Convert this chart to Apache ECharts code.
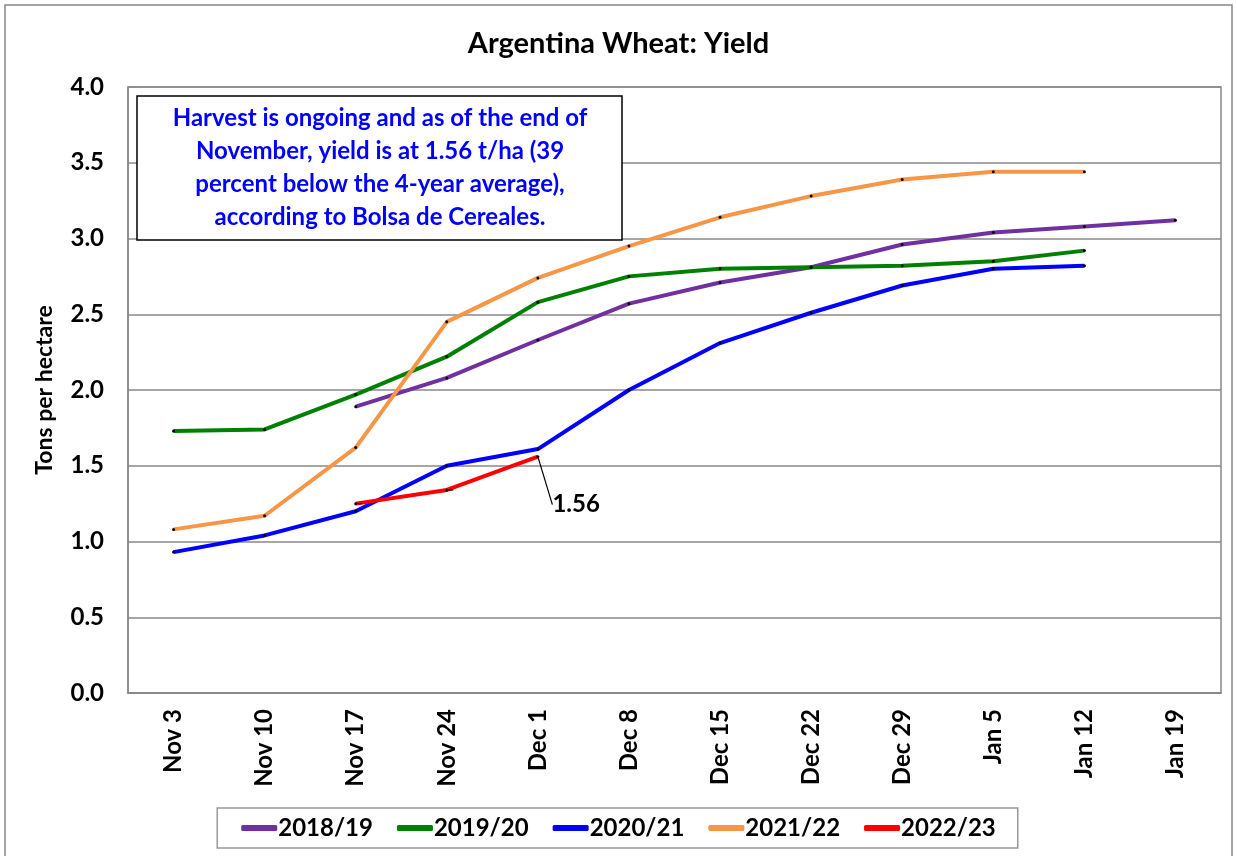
<!DOCTYPE html>
<html>
<head>
<meta charset="utf-8">
<script src="https://cdn.jsdelivr.net/npm/echarts@6/dist/echarts.min.js"></script>
<style>
  html, body { margin: 0; padding: 0; background: #fff; }
  #chart { width: 1237px; height: 856px; }
</style>
</head>
<body>
<div id="chart"></div>
<script>
// weeks of the harvest season
var weeks = ['Nov 3', 'Nov 10', 'Nov 17', 'Nov 24', 'Dec 1', 'Dec 8', 'Dec 15', 'Dec 22', 'Dec 29', 'Jan 5', 'Jan 12', 'Jan 19'];

// yield, tons per hectare (null = no report)
var y2018 = [null, null, 1.89, 2.08, 2.33, 2.57, 2.71, 2.81, 2.96, 3.04, 3.08, 3.12];
var y2019 = [1.73, 1.74, 1.97, 2.22, 2.58, 2.75, 2.80, 2.81, 2.82, 2.85, 2.92, null];
var y2020 = [0.93, 1.04, 1.20, 1.50, 1.61, 2.00, 2.31, 2.51, 2.69, 2.80, 2.82, null];
var y2021 = [1.08, 1.17, 1.62, 2.45, 2.74, 2.95, 3.14, 3.28, 3.39, 3.44, 3.44, null];
var y2022 = [null, null, 1.25, 1.34, 1.56, null, null, null, null, null, null, null];

var seasons = ['2018/19', '2019/20', '2020/21', '2021/22', '2022/23'];
var colors = ['#7030A0', '#008000', '#0000FF', '#F79646', '#FF0000'];

var noteLines = [
  'Harvest is ongoing and as of the end of',
  'November, yield is at 1.56 t/ha (39',
  'percent below the 4-year average),',
  'according to Bolsa de Cereales.'
];

var FONT = 'Lato';

function makeSeries(name, data, color) {
  return {
    name: name,
    type: 'line',
    data: data,
    symbol: 'circle',
    symbolSize: 3,
    showSymbol: true,
    connectNulls: false,
    itemStyle: { color: '#000' },
    lineStyle: { color: color, width: 4 },
    emphasis: { disabled: true },
    animation: false
  };
}

var chart = echarts.init(document.getElementById('chart'));

var allData = [y2018, y2019, y2020, y2021, y2022];
var series = seasons.map(function (s, i) {
  return makeSeries(s, allData[i], colors[i]);
});

// label on the latest 2022/23 reading
var last = -1;
y2022.forEach(function (v, i) { if (v != null) last = i; });
series[4].label = {
  show: true,
  position: 'right',
  formatter: function (p) { return p.dataIndex === last ? p.value.toFixed(2) : ''; },
  fontFamily: FONT,
  fontWeight: 'bold',
  fontSize: 24,
  color: '#000'
};
series[4].labelLayout = function (p) {
  if (p.dataIndex !== last) return {};
  return { dx: 8, dy: 48 };
};
series[4].labelLine = { show: true, length2: 0, lineStyle: { color: '#000', width: 1.2 } };

var option = {
  backgroundColor: '#fff',
  title: {
    text: 'Argentina Wheat: Yield',
    left: 'center',
    top: 24,
    textStyle: { fontFamily: FONT, fontWeight: 'bold', fontSize: 29, color: '#000' }
  },
  grid: {
    left: 128,
    right: 16,
    top: 87,
    bottom: 163,
    show: true,
    borderColor: '#888',
    borderWidth: 1.5
  },
  legend: {
    bottom: 8,
    left: 'center',
    padding: [8, 22, 8, 24],
    borderColor: '#999',
    borderWidth: 1.5,
    icon: 'roundRect',
    itemWidth: 36,
    itemHeight: 6,
    itemGap: 24,
    textStyle: { fontFamily: FONT, fontWeight: 'bold', fontSize: 24, color: '#000', padding: [0, 0, 0, -4] },
    data: seasons.map(function (s, i) {
      return { name: s, itemStyle: { color: colors[i] } };
    })
  },
  xAxis: {
    type: 'category',
    data: weeks,
    boundaryGap: true,
    axisLine: { lineStyle: { color: '#888', width: 1.5 } },
    axisTick: { show: false },
    axisLabel: {
      rotate: 90,
      margin: 16,
      fontFamily: FONT,
      fontWeight: 'bold',
      fontSize: 24,
      color: '#000',
      interval: 0
    }
  },
  yAxis: {
    type: 'value',
    min: 0,
    max: 4,
    interval: 0.5,
    name: 'Tons per hectare',
    nameLocation: 'middle',
    nameGap: 72,
    nameTextStyle: { fontFamily: FONT, fontWeight: 'bold', fontSize: 23, color: '#000' },
    axisLine: { show: true, lineStyle: { color: '#888', width: 1.5 } },
    axisTick: { show: false },
    splitLine: { lineStyle: { color: '#888', width: 1.5 } },
    axisLabel: {
      margin: 24,
      fontFamily: FONT,
      fontWeight: 'bold',
      fontSize: 24,
      color: '#000',
      formatter: function (v) { return v.toFixed(1); }
    }
  },
  graphic: [
    {
      type: 'rect',
      shape: { x: 5, y: 5, width: 1227, height: 860 },
      style: { fill: 'none', stroke: '#888', lineWidth: 1.5 },
      z: 0
    },
    {
      type: 'rect',
      shape: { x: 137, y: 96, width: 485, height: 144 },
      style: { fill: '#fff', stroke: '#000', lineWidth: 1.5 },
      z: 100
    },
    {
      type: 'text',
      z: 101,
      style: {
        text: noteLines.join('\n'),
        x: 380,
        y: 102,
        align: 'center',
        verticalAlign: 'top',
        fill: '#0000FF',
        fontFamily: FONT,
        fontWeight: 'bold',
        fontSize: 24,
        lineHeight: 33
      }
    }
  ],
  series: series
};

chart.setOption(option);
</script>
</body>
</html>
